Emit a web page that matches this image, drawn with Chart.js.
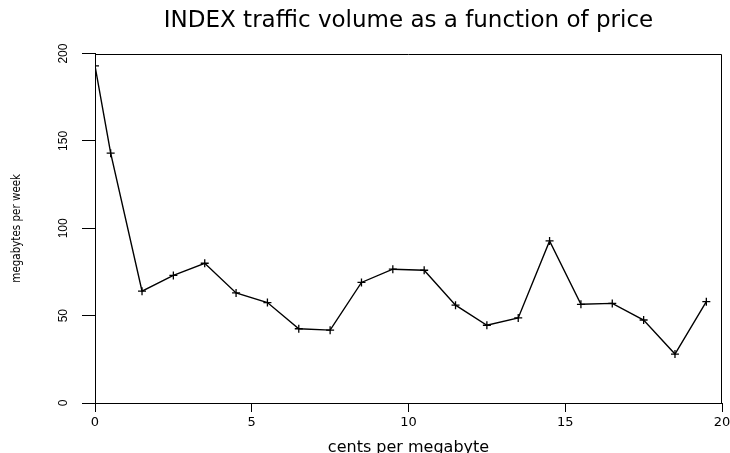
<!DOCTYPE html>
<html>
<head>
<meta charset="utf-8">
<script src="https://cdn.jsdelivr.net/npm/chart.js@4.4.1/dist/chart.umd.min.js"></script>
<style>
  body { margin: 0; background: #fff; }
</style>
</head>
<body>
<canvas id="myChart" width="730" height="453"></canvas>
<script>
// price in cents per megabyte
const prices = [0, 0.5, 1.5, 2.5, 3.5, 4.5, 5.5, 6.5, 7.5, 8.5, 9.5, 10.5, 11.5, 12.5, 13.5, 14.5, 15.5, 16.5, 17.5, 18.5, 19.5]
// weekly traffic, megabytes
const volumes = [193, 143, 64, 73, 80, 63, 57.5, 42.5, 41.7, 69, 76.6, 76, 56, 44.5, 48.7, 92.8, 56.5, 57, 47.5, 28, 58]

// axis ticks
const xTicks = [0, 5, 10, 15, 20]
const yTicks = [0, 50, 100, 150, 200]

const points = prices.map((p, i) => ({ x: p, y: volumes[i] }))

// top and right sides of the box (left/bottom are the axis lines)
const plotBox = {
    id: 'plotBox',
    afterDraw(chart) {
        const { ctx, chartArea: a } = chart
        ctx.save()
        ctx.strokeStyle = '#000'
        ctx.lineWidth = 1
        const l = Math.round(a.left) + 0.5
        const t = Math.round(a.top) + 0.5
        const r = Math.round(a.right) - 0.5
        const b = Math.round(a.bottom) + 0.5
        ctx.beginPath()
        ctx.moveTo(l, t)
        ctx.lineTo(r, t)
        ctx.lineTo(r, b)
        ctx.stroke()
        ctx.restore()
    }
}

const ctx = document.getElementById('myChart')
new Chart(ctx, {
    type: 'line',
    data: {
        datasets: [{
            data: points,
            borderColor: '#000',
            borderWidth: 1.4,
            pointStyle: 'cross',
            pointRadius: 4,
            pointBorderColor: '#000',
            pointBorderWidth: 1.3,
            tension: 0
        }]
    },
    options: {
        responsive: false,
        animation: false,
        devicePixelRatio: 1,
        layout: { padding: { left: 0, right: 0, top: 0, bottom: 0 } },
        plugins: {
            legend: { display: false },
            tooltip: { enabled: false },
            title: {
                display: true,
                text: 'INDEX traffic volume as a function of price',
                color: '#000',
                fullSize: false,
                font: { family: 'DejaVu Sans', size: 23, weight: 'normal' },
                padding: { top: 7, bottom: 19 }
            }
        },
        scales: {
            x: {
                type: 'linear',
                min: xTicks[0],
                max: xTicks[xTicks.length - 1],
                afterBuildTicks: s => { s.ticks = xTicks.map(v => ({ value: v })) },
                afterFit: s => {
                    s.height = 50
                    s.paddingRight = 8
                },
                ticks: {
                    color: '#000',
                    font: { family: 'DejaVu Sans', size: 13 },
                    padding: 3,
                    maxRotation: 0
                },
                grid: { drawOnChartArea: false, tickLength: 9, tickColor: '#000' },
                border: { color: '#000', width: 1 },
                title: {
                    display: true,
                    text: 'cents per megabyte',
                    color: '#000',
                    font: { family: 'DejaVu Sans', size: 16 },
                    padding: { top: 0, bottom: -4 }
                }
            },
            y: {
                type: 'linear',
                min: yTicks[0],
                max: yTicks[yTicks.length - 1],
                afterBuildTicks: s => { s.ticks = yTicks.map(v => ({ value: v })) },
                afterFit: s => { s.width = 95 },
                ticks: {
                    color: '#000',
                    font: { family: 'Liberation Sans', size: 12 },
                    minRotation: 90,
                    maxRotation: 90,
                    crossAlign: 'center',
                    padding: 8
                },
                grid: { drawOnChartArea: false, tickLength: 13, tickColor: '#000' },
                border: { color: '#000', width: 1 },
                title: {
                    display: true,
                    text: 'megabytes per week',
                    color: '#000',
                    font: { family: 'DejaVu Sans Condensed, Liberation Sans', size: 11.5 },
                    padding: { top: 10, bottom: 0 }
                }
            }
        }
    },
    plugins: [plotBox]
})
</script>
</body>
</html>
